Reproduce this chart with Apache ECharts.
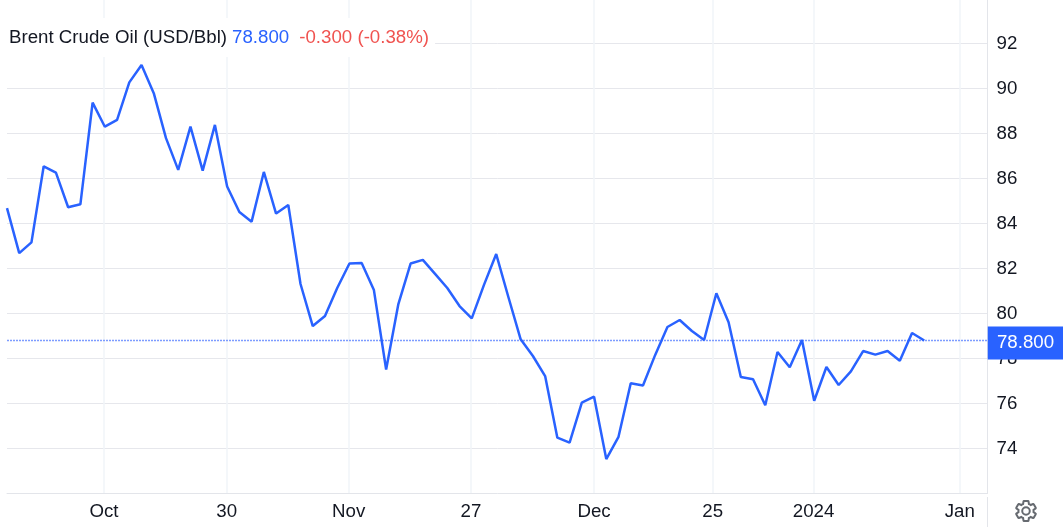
<!DOCTYPE html>
<html>
<head>
<meta charset="utf-8">
<title>Brent Crude Oil</title>
<script src="https://cdn.jsdelivr.net/npm/echarts@6/dist/echarts.min.js"></script>
<style>
  html, body { margin: 0; padding: 0; background: #fff; }
  #el { width: 1063px; height: 527px; }
</style>
</head>
<body>
<div id="el"></div>
<script>
// trading day position of every point, the price
const prices = [
  84.68, 82.68, 83.16, 86.54, 86.26, 84.72, 84.85, 89.37, 88.30, 88.60,
  90.27, 91.04, 89.79, 87.79, 86.38, 88.30, 86.35, 88.38, 85.64, 84.51,
  84.08, 86.29, 84.44, 84.82, 81.31, 79.44, 79.89, 81.13, 82.22, 82.24,
  81.04, 77.51, 80.42, 82.22, 82.38, 81.76, 81.13, 80.33, 79.78, 81.27,
  82.64, 80.72, 78.85, 78.11, 77.22, 74.48, 74.26, 76.04, 76.30, 73.53,
  74.52, 76.90, 76.80, 78.16, 79.40, 79.71, 79.22, 78.82, 80.90, 79.61,
  77.18, 77.08, 75.92, 78.29, 77.61, 78.82, 76.12, 77.62, 76.82, 77.43,
  78.33, 78.17, 78.33, 77.90, 79.13, 78.80
];
const dateTicks = [7.93, 17.96, 27.94, 37.94, 48.0, 57.7, 65.95, 77.9];
const dateLabels = ['Oct', '30', 'Nov', '27', 'Dec', '25', '2024', 'Jan'];
const priceTicks = [74, 76, 78, 80, 82, 84, 86, 88, 90, 92];
const lastPrice = 78.8;
const xMax = 80.17;

const blue = '#2962ff';
const red = '#f05350';
const textColor = '#131722';
const fontFamily = 'Arial, "Liberation Sans", sans-serif';
const fontSize = 18.7;

const gearPath = 'M19.14,12.94c0.04-0.3,0.06-0.61,0.06-0.94c0-0.32-0.02-0.64-0.07-0.94l2.03-1.58c0.18-0.14,0.23-0.41,0.12-0.61l-1.92-3.32c-0.12-0.22-0.37-0.29-0.59-0.22l-2.39,0.96c-0.5-0.38-1.03-0.7-1.62-0.94L14.4,2.81c-0.04-0.24-0.24-0.41-0.48-0.41h-3.84c-0.24,0-0.43,0.17-0.47,0.41L9.25,5.35C8.66,5.59,8.12,5.92,7.63,6.29L5.24,5.33c-0.22-0.08-0.47,0-0.59,0.22L2.74,8.87C2.62,9.08,2.66,9.34,2.86,9.48l2.03,1.58C4.84,11.36,4.8,11.69,4.8,12s0.02,0.64,0.07,0.94l-2.03,1.58c-0.18,0.14-0.23,0.41-0.12,0.61l1.92,3.32c0.12,0.22,0.37,0.29,0.59,0.22l2.39-0.96c0.5,0.38,1.03,0.7,1.62,0.94l0.36,2.54c0.05,0.24,0.24,0.41,0.48,0.41h3.84c0.24,0,0.44-0.17,0.47-0.41l0.36-2.54c0.59-0.24,1.13-0.56,1.62-0.94l2.39,0.96c0.22,0.08,0.47,0,0.59-0.22l1.92-3.32c0.12-0.22,0.07-0.47-0.12-0.61L19.14,12.94z M12,15.6c-1.98,0-3.6-1.62-3.6-3.6s1.62-3.6,3.6-3.6s3.6,1.62,3.6,3.6S13.98,15.6,12,15.6z';
echarts.graphic.registerShape('gear', echarts.graphic.extendPath(gearPath, {}));

let myChart = echarts.init(document.querySelector('#el'), null, { renderer: 'canvas' });

let option = {
  animation: false,
  backgroundColor: '#fff',
  title: {
    left: 7,
    top: 18,
    padding: [10, 6, 10, 2],
    backgroundColor: '#fff',
    text: '{name|Brent Crude Oil (USD/Bbl)} {price|78.800}  {change|-0.300 (-0.38%)}',
    textStyle: {
      fontWeight: 'normal',
      rich: {
        name: { color: textColor, fontSize: fontSize, fontWeight: 'normal', fontFamily: fontFamily },
        price: { color: blue, fontSize: fontSize, fontWeight: 'normal', fontFamily: fontFamily },
        change: { color: red, fontSize: fontSize, fontWeight: 'normal', fontFamily: fontFamily }
      }
    }
  },
  grid: { left: 7, right: 75.5, top: 0, bottom: 33.5 },
  xAxis: {
    type: 'value',
    min: 0,
    max: xMax,
    axisLine: { show: true, onZero: false, lineStyle: { color: '#e3e5ea', width: 1 } },
    axisTick: { show: false, customValues: dateTicks },
    axisLabel: {
      customValues: dateTicks,
      formatter: (value) => dateLabels[dateTicks.indexOf(value)],
      color: textColor,
      fontSize: fontSize,
      fontFamily: fontFamily,
      margin: 9
    },
    splitLine: { show: true, lineStyle: { color: '#f1f4f9', width: 1.5 } }
  },
  yAxis: {
    type: 'value',
    position: 'right',
    min: 72,
    max: 93.93,
    axisLine: { show: true, onZero: false, lineStyle: { color: '#e3e5ea', width: 1 } },
    axisTick: { show: false, customValues: priceTicks },
    axisLabel: {
      customValues: priceTicks,
      color: textColor,
      fontSize: fontSize,
      fontFamily: fontFamily,
      margin: 9
    },
    splitLine: { show: true, lineStyle: { color: '#e6e7ec', width: 1 } }
  },
  graphic: [
    {
      type: 'line',
      shape: { x1: 987.5, y1: 497, x2: 987.5, y2: 527 },
      style: { stroke: '#e3e5ea', lineWidth: 1 }
    },
    {
      type: 'gear',
      x: 1013.4,
      y: 498.4,
      scaleX: 1.05,
      scaleY: 1.05,
      style: { fill: 'none', stroke: '#666a70', lineWidth: 1.9 }
    }
  ],
  series: [
    {
      // dotted last price line, under the price line
      type: 'line',
      data: [[0, lastPrice], [xMax, lastPrice]],
      showSymbol: false,
      silent: true,
      lineStyle: { color: '#7d9cff', type: [2, 1], width: 1.6 },
      z: 4
    },
    {
      type: 'line',
      data: prices.map((p, i) => [i, p]),
      showSymbol: false,
      smooth: false,
      lineStyle: { color: blue, width: 2.5 },
      z: 5,
      // price tag sitting on the right end of the dotted line
      markPoint: {
        silent: true,
        animation: false,
        data: [{
          coord: [xMax, lastPrice],
          symbol: 'rect',
          symbolSize: [75.5, 33],
          symbolOffset: [38, 2.5],
          itemStyle: { color: blue },
          label: {
            show: true,
            position: 'inside',
            formatter: lastPrice.toFixed(3),
            color: '#fff',
            fontSize: fontSize,
            fontFamily: fontFamily
          }
        }]
      }
    }
  ]
};

option && myChart.setOption(option);
</script>
</body>
</html>
